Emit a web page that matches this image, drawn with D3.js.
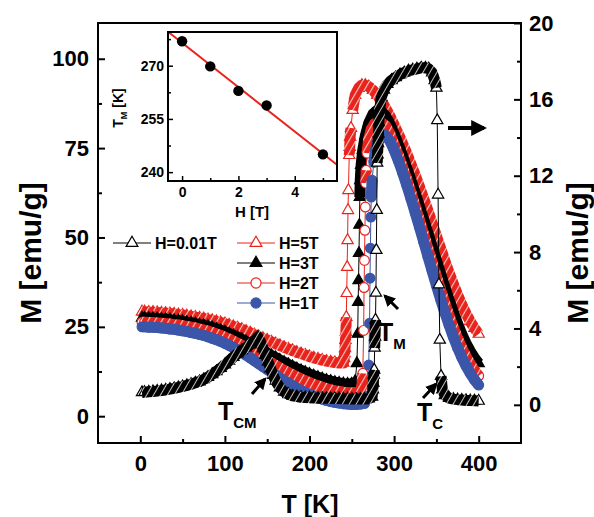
<!DOCTYPE html>
<html><head><meta charset="utf-8">
<script src="https://cdn.jsdelivr.net/npm/d3@7"></script>
<style>
body{margin:0;background:#fff}
svg{display:block}
text{font-family:"Liberation Sans",Arial,sans-serif;font-weight:bold;fill:#000}
</style></head>
<body><svg id="c" width="594" height="517"></svg>
<script>
// ---------------- DATA ----------------
const T_5T = [2,5,10,15,20,25,30,35,40,45,50,55,60,65,70,75,80,85,90,95,100,105,110,115,120,125,130,135,140,145,150,155,160,165,170,175,180,185,190,195,200,205,210,215,220,225,230,235,240,
  241,241.5,242,242.5,243,243.5,244,244.5,245,245.5,246,247,247.5,248,249,251,254,258,262,266,270,275,280,285,290,295,
  300,305,310,315,320,325,330,335,340,345,350,355,360,365,370,375,380,385,390,395,400];
const M_5T = [29.2,29.2,29.1,29.1,29.0,28.9,28.8,28.7,28.6,28.4,28.3,28.1,27.9,27.7,27.5,27.3,27.0,26.8,26.5,26.2,25.9,25.5,25.1,24.7,24.3,23.8,23.3,22.8,22.3,21.8,21.3,20.8,20.3,19.8,19.3,18.8,18.4,17.9,17.5,17.1,16.7,16.3,16.0,15.7,15.4,15.2,15.0,14.9,14.9,
  16.2,17.6,19.0,21.3,23.5,27.7,34.4,41.7,49.2,57.6,63.2,73,75.3,78.1,80.6,85.6,89.8,91.8,92.6,92.6,92.2,91.2,89.8,88.2,86.2,84,
  81.5,79,76.3,73.5,70.5,67.4,64.2,60.9,57.5,54,50.5,47,43.5,40.2,37,34,31.2,28.7,26.5,24.6,23];

const T_3T = [2,5,10,15,20,25,30,35,40,45,50,55,60,65,70,75,80,85,90,95,100,105,110,115,120,125,130,135,140,145,150,155,160,165,170,175,180,185,190,195,200,205,210,215,220,225,230,235,240,245,250,
  254,256,257,257.5,258,258.5,259,259.5,260,261,263,266,270,275,280,285,290,295,
  300,305,310,315,320,325,330,335,340,345,350,355,360,365,370,375,380,385,390,395,400];
const M_3T = [27.5,27.5,27.4,27.4,27.3,27.2,27.1,27.0,26.8,26.7,26.5,26.3,26.1,25.9,25.6,25.4,25.1,24.8,24.4,24.0,23.6,23.1,22.6,22.1,21.5,20.9,20.3,19.7,19.0,18.4,17.7,17.0,16.4,15.7,15.1,14.5,13.9,13.3,12.8,12.3,11.8,11.3,10.9,10.5,10.1,9.8,9.5,9.3,9.1,9.0,9.0,
  9.8,14.8,23,31.9,38,45.6,53.5,61.3,66,70.2,74.5,78.5,82,84.5,85.6,85.3,84,81.8,
  79,76,72.8,69.4,66,62.4,58.7,55,51.2,47.4,43.6,39.8,36.1,32.5,29.1,25.9,23,20.4,18.2,16.3,14.8];

const T_2T = [2,5,10,15,20,25,30,35,40,45,50,55,60,65,70,75,80,85,90,95,100,105,110,115,120,125,130,135,140,145,150,155,160,165,170,175,180,185,190,195,200,205,210,215,220,225,230,235,240,245,250,255,260,
  262,263,264,264.5,265,265.5,266,266.5,267,268,270,273,277,281,285,290,295,
  300,305,310,315,320,325,330,335,340,345,350,355,360,365,370,375,380,385,390,395,400];
const M_2T = [26.3,26.3,26.2,26.2,26.1,26.0,25.9,25.8,25.6,25.5,25.3,25.1,24.9,24.7,24.4,24.1,23.8,23.4,23.0,22.6,22.1,21.6,21.0,20.4,19.8,19.1,18.4,17.7,17.0,16.3,15.6,14.9,14.2,13.5,12.8,12.2,11.6,11.0,10.4,9.9,9.4,8.9,8.5,8.1,7.7,7.4,7.1,6.9,6.7,6.6,6.5,6.6,7.0,
  8.5,12,24,36,43.6,52,58.5,65.2,68.8,73.6,77.5,80.3,81.8,82.3,82.1,81.2,79,
  76,73,69.7,66.2,62.5,58.7,54.8,50.9,46.9,43,39.1,35.3,31.6,28.1,24.8,21.8,19.1,16.7,14.6,12.8,11.3];

const T_1T = [2,5,10,15,20,25,30,35,40,45,50,55,60,65,70,75,80,85,90,95,100,105,110,115,120,125,130,135,140,145,150,155,160,165,170,175,180,185,190,195,200,205,210,215,220,225,230,235,240,245,250,255,260,265,
  268,270,271,271.5,272,272.5,273,274,276,278,281,285,290,295,
  300,305,310,315,320,325,330,335,340,345,350,355,360,365,370,375,380,385,390,395,400];
const M_1T = [25.0,25.0,24.9,24.9,24.8,24.7,24.6,24.4,24.3,24.1,23.9,23.7,23.4,23.2,22.9,22.6,22.2,21.8,21.4,20.9,20.4,19.8,19.2,18.5,17.8,17.1,16.3,15.5,14.7,13.9,13.1,12.3,11.5,10.7,9.9,9.2,8.5,7.8,7.2,6.6,6.1,5.6,5.2,4.8,4.4,4.1,3.9,3.7,3.5,3.4,3.3,3.3,3.4,3.6,
  5.5,14.3,26,38.6,47,55.7,61.3,66,71,74.5,77,78.4,78.5,77,
  74.5,71.5,68.2,64.6,60.8,56.9,52.9,48.8,44.7,40.6,36.6,32.7,29,25.5,22.2,19.2,16.5,14.1,12,10.2,8.7];

// H = 0.01 T, read on the right axis
const T_001 = [2,5,10,15,20,25,30,35,40,45,50,55,60,65,70,75,80,85,90,95,100,105,110,115,120,125,130,135,139,
  142,145,148,151,154,157,160,165,170,175,180,185,190,195,200,205,210,215,220,225,230,235,240,245,250,255,260,265,270,
  274,275,275.5,276,276.5,277,277.5,278,278.5,279,279.5,280,280.5,281,281.5,282,283,285,288,292,297,302,307,312,317,322,327,332,337,341,345,348,350,351,352,353,354,355.5,357,360,365,370,375,380,385,390,395,400];
const M_001 = [0.65,0.66,0.68,0.7,0.72,0.75,0.78,0.82,0.86,0.91,0.96,1.02,1.08,1.15,1.22,1.33,1.45,1.6,1.75,1.92,2.1,2.3,2.5,2.68,2.85,3.0,3.15,3.35,3.56,
  3.3,2.95,2.6,2.25,1.9,1.55,1.25,0.9,0.68,0.55,0.47,0.43,0.4,0.38,0.37,0.36,0.35,0.35,0.34,0.34,0.33,0.33,0.32,0.32,0.31,0.31,0.3,0.3,0.32,
  0.42,0.79,1.15,1.57,1.83,2.98,3.56,4.45,5.86,8.1,10.2,12.67,13.1,13.7,14.2,14.8,15.5,16.1,16.5,16.8,17.0,17.15,17.3,17.4,17.5,17.55,17.6,17.65,17.65,17.6,17.4,17.0,16.6,14.9,11,6.3,3.4,1.5,0.8,0.5,0.35,0.3,0.27,0.25,0.23,0.22,0.21,0.2];

// inset: T_M versus H
const H_inset = [0,1,2,3,5];
const TM_inset = [276.9,269.8,262.9,258.8,245];

// ticks
const xTicks = [0,100,200,300,400], xMinor = [50,150,250,350];
const yLTicks = [0,25,50,75,100], yLMinor = [12.5,37.5,62.5,87.5];
const yRTicks = [0,4,8,12,16,20], yRMinor = [2,6,10,14,18];
const ixTicks = [0,2,4], ixMinor = [1,3,5];
const iyTicks = [240,255,270], iyMinor = [247.5,262.5,277.5];

const legendLabels = ["H=0.01T","H=5T","H=3T","H=2T","H=1T"];

// ---------------- DRAW ----------------
const RED = "#e8231c", BLUE = "#3b55a8", BLACK = "#000";
const svg = d3.select("#c");
const L = 98, R = 521, TOP = 23, B = 443;
const x = d3.scaleLinear().domain([-50,450]).range([L,R]);
const yL = d3.scaleLinear().domain([-7.5,110]).range([B,TOP]);
const yR = d3.scaleLinear().domain([-2,20]).range([B,TOP]);

const defs = svg.append("defs");
defs.append("clipPath").attr("id","clip").append("rect").attr("x",L).attr("y",TOP).attr("width",R-L).attr("height",B-TOP);
defs.append("marker").attr("id","ah").attr("viewBox","0 0 10 10").attr("refX",8).attr("refY",5)
  .attr("markerWidth",4).attr("markerHeight",4).attr("orient","auto").attr("markerUnits","strokeWidth")
  .append("path").attr("d","M0,0L10,5L0,10Z").attr("fill","#000");
function stripes(id,color,light){
  const p = defs.append("pattern").attr("id",id).attr("patternUnits","userSpaceOnUse")
    .attr("width",6).attr("height",6).attr("patternTransform","rotate(30)");
  p.append("rect").attr("width",6).attr("height",6).attr("fill",color);
  p.append("rect").attr("x",0).attr("width",light).attr("height",6).attr("fill","#fff").attr("opacity",0.75);
}
stripes("stRed",RED,1.1);
stripes("stBlack",BLACK,1.0);

function styleAxis(g, size){
  g.select(".domain").remove();
  g.selectAll(".tick line").attr("stroke","#000").attr("stroke-width",2);
  g.selectAll("text").style("font-size", size+"px");
}
function minorAxis(axis, vals, tr, len, w){
  const g = svg.append("g").attr("transform",tr).call(axis.tickValues(vals).tickSize(-(len||4)).tickFormat(""));
  g.select(".domain").remove();
  g.selectAll(".tick line").attr("stroke","#000").attr("stroke-width",w||2);
}

// main axes
svg.append("g").attr("transform",`translate(0,${B})`)
  .call(d3.axisBottom(x).tickValues(xTicks).tickSize(-7).tickPadding(12)).call(g=>styleAxis(g,22));
minorAxis(d3.axisBottom(x), xMinor, `translate(0,${B})`);
svg.append("g").attr("transform",`translate(${L},0)`)
  .call(d3.axisLeft(yL).tickValues(yLTicks).tickSize(-7).tickPadding(9)).call(g=>styleAxis(g,22));
minorAxis(d3.axisLeft(yL), yLMinor, `translate(${L},0)`);
svg.append("g").attr("transform",`translate(${R},0)`)
  .call(d3.axisRight(yR).tickValues(yRTicks).tickSize(-7).tickPadding(8)).call(g=>styleAxis(g,22));
minorAxis(d3.axisRight(yR), yRMinor, `translate(${R},0)`);

// series
const series = [
  {T:T_5T, M:M_5T, y:yL, color:RED, sym:d3.symbolTriangle, fill:"#fff", band:"url(#stRed)"},
  {T:T_3T, M:M_3T, y:yL, color:BLACK, sym:d3.symbolTriangle, fill:BLACK, band:BLACK},
  {T:T_2T, M:M_2T, y:yL, color:RED, sym:d3.symbolCircle, fill:"#fff", band:"url(#stRed)"},
  {T:T_1T, M:M_1T, y:yL, color:BLUE, sym:d3.symbolCircle, fill:BLUE, band:BLUE},
  {T:T_001, M:M_001, y:yR, color:BLACK, sym:d3.symbolTriangle, fill:"#fff", band:"url(#stBlack)"}
];
const plot = svg.append("g").attr("clip-path","url(#clip)");
series.forEach(s=>{
  const pts = s.T.map((t,i)=>[x(t), s.y(s.M[i])]);
  const g = plot.append("g");
  g.append("path").datum(pts).attr("fill","none").attr("stroke",s.color).attr("stroke-width",1)
    .attr("d", d3.line());
  const size = s.sym===d3.symbolTriangle ? 55 : 75;
  g.append("g").selectAll("path").data(pts).join("path")
    .attr("transform",d=>`translate(${d[0]},${d[1]})`)
    .attr("d", d3.symbol().type(s.sym).size(size)())
    .attr("fill",s.fill).attr("stroke",s.color).attr("stroke-width",1.2);
  // where measured points crowd together their markers merge into a continuous band
  let d = "", open = false;
  for(let i=1;i<pts.length;i++){
    const dist = Math.hypot(pts[i][0]-pts[i-1][0], pts[i][1]-pts[i-1][1]);
    if(dist < 17){
      if(!open){ d += `M${pts[i-1][0]},${pts[i-1][1]}`; open = true; }
      d += `L${pts[i][0]},${pts[i][1]}`;
    } else open = false;
  }
  g.append("path").attr("d",d).attr("fill","none").attr("stroke",s.band)
    .attr("stroke-width",11).attr("stroke-linejoin","round").attr("stroke-linecap","butt");
});

// frame
svg.append("rect").attr("x",L).attr("y",TOP).attr("width",R-L).attr("height",B-TOP)
  .attr("fill","none").attr("stroke","#000").attr("stroke-width",2);

// axis titles
svg.append("text").attr("transform",`translate(41,253) rotate(-90)`).attr("text-anchor","middle")
  .style("font-size","30px").text("M [emu/g]");
svg.append("text").attr("transform",`translate(588,253) rotate(-90)`).attr("text-anchor","middle")
  .style("font-size","30px").text("M [emu/g]");
svg.append("text").attr("x",310).attr("y",513).attr("text-anchor","middle")
  .style("font-size","25px").text("T [K]");

// legend
const legendItems = [
  {lab:legendLabels[0], x:113, y:243, s:series[4]},
  {lab:legendLabels[1], x:237, y:243, s:series[0]},
  {lab:legendLabels[2], x:237, y:263, s:series[1]},
  {lab:legendLabels[3], x:237, y:283, s:series[2]},
  {lab:legendLabels[4], x:237, y:303, s:series[3]}
];
legendItems.forEach(it=>{
  const g = svg.append("g");
  g.append("line").attr("x1",it.x).attr("x2",it.x+38).attr("y1",it.y).attr("y2",it.y)
    .attr("stroke",it.s.color).attr("stroke-width",1);
  g.append("path").attr("transform",`translate(${it.x+19},${it.y})`)
    .attr("d", d3.symbol().type(it.s.sym).size(it.s.sym===d3.symbolTriangle?60:80)())
    .attr("fill",it.s.fill).attr("stroke",it.s.color).attr("stroke-width",1.2);
  g.append("text").attr("x",it.x+42).attr("y",it.y+6).style("font-size","16px").text(it.lab);
});

// annotations
function arrow(x1,y1,x2,y2,w){
  svg.append("line").attr("x1",x1).attr("y1",y1).attr("x2",x2).attr("y2",y2)
    .attr("stroke","#000").attr("stroke-width",w||3).attr("marker-end","url(#ah)");
}
function label(xp,yp,main,sub){
  const t = svg.append("text").attr("x",xp).attr("y",yp).style("font-size","25px");
  t.append("tspan").text(main);
  t.append("tspan").attr("dy",8).style("font-size","15px").text(sub);
}
arrow(252,394,265,379);
label(218,420,"T","CM");
arrow(398,309,385,296);
label(378,341,"T","M");
arrow(423,398,436,384);
label(417,421,"T","C");
arrow(448,128,484,128,4);

// ---------------- INSET ----------------
const iL=168, iR=337, iT=32, iB=181;
const xi = d3.scaleLinear().domain([-0.5,5.5]).range([iL,iR]);
const yi = d3.scaleLinear().domain([237.5,279.5]).range([iB,iT]);
svg.append("rect").attr("x",iL).attr("y",iT).attr("width",iR-iL).attr("height",iB-iT).attr("fill","#fff");
svg.append("g").attr("transform",`translate(0,${iB})`)
  .call(d3.axisBottom(xi).tickValues(ixTicks).tickFormat(d3.format("d")).tickSize(-5).tickPadding(6))
  .call(g=>{styleAxis(g,14); g.selectAll(".tick line").attr("stroke-width",1.5);});
minorAxis(d3.axisBottom(xi), ixMinor, `translate(0,${iB})`, 3, 1.5);
svg.append("g").attr("transform",`translate(${iL},0)`)
  .call(d3.axisLeft(yi).tickValues(iyTicks).tickFormat(d3.format("d")).tickSize(-5).tickPadding(4))
  .call(g=>{styleAxis(g,14); g.selectAll(".tick line").attr("stroke-width",1.5);});
minorAxis(d3.axisLeft(yi), iyMinor, `translate(${iL},0)`, 3, 1.5);

// least-squares line through inset points
const mx = d3.mean(H_inset), my = d3.mean(TM_inset);
const slope = d3.sum(H_inset.map((h,i)=>(h-mx)*(TM_inset[i]-my))) / d3.sum(H_inset.map(h=>(h-mx)*(h-mx)));
const icpt = my - slope*mx;
svg.append("line").attr("x1",xi(-0.5)).attr("y1",yi(icpt+slope*-0.5)).attr("x2",xi(5.5)).attr("y2",yi(icpt+slope*5.5))
  .attr("stroke",RED).attr("stroke-width",2);
svg.append("g").selectAll("circle").data(H_inset).join("circle")
  .attr("cx",d=>xi(d)).attr("cy",(d,i)=>yi(TM_inset[i])).attr("r",5.2).attr("fill","#000");
svg.append("rect").attr("x",iL).attr("y",iT).attr("width",iR-iL).attr("height",iB-iT)
  .attr("fill","none").attr("stroke","#000").attr("stroke-width",2);
const tl = svg.append("text").attr("transform",`translate(123,108) rotate(-90)`).attr("text-anchor","middle").style("font-size","14px");
tl.append("tspan").text("T");
tl.append("tspan").attr("dy",4).style("font-size","9px").text("M");
tl.append("tspan").attr("dy",-4).text(" [K]");
svg.append("text").attr("x",252).attr("y",217).attr("text-anchor","middle").style("font-size","15px").text("H [T]");
</script></body></html>
